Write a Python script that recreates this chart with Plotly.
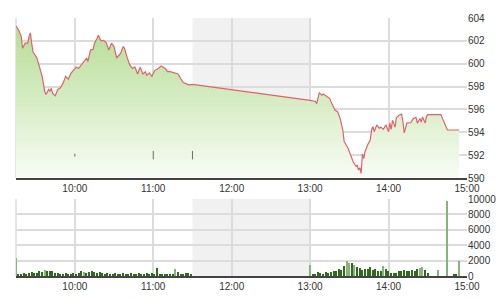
import plotly.graph_objects as go
import pandas as pd

DAY = "2024-01-02 "

# ---- price series (time, index value) ----
price_times = [
    "09:15","09:17","09:19","09:20","09:22","09:24","09:25","09:26","09:27","09:28",
    "09:31","09:33","09:35","09:37","09:38","09:40","09:41","09:42","09:43","09:45",
    "09:47","09:49","09:51","09:53","09:55","09:57","09:59","10:01","10:03","10:05",
    "10:07","10:09","10:10","10:12","10:14","10:15","10:17","10:18","10:20","10:22",
    "10:24","10:26","10:28","10:30","10:32","10:35","10:37","10:38","10:40","10:42",
    "10:44","10:46","10:48","10:50","10:52","10:54","10:55","10:57","10:59","11:01",
    "11:04","11:06","11:09","11:11","11:13","11:16","11:19","11:21","11:23","11:27",
    "11:29","11:30",
    "13:00","13:04","13:05","13:07","13:09","13:10","13:12","13:15","13:17","13:19",
    "13:21","13:23","13:25","13:26","13:29","13:31","13:33","13:35","13:36","13:37",
    "13:38","13:39","13:40","13:41","13:42","13:44","13:46","13:47","13:48","13:49",
    "13:51","13:53","13:54","13:56","13:58","14:00","14:01","14:02","14:03","14:05",
    "14:06","14:08","14:10","14:11","14:12","14:14","14:16","14:17","14:19","14:21",
    "14:22","14:24","14:25","14:26","14:28","14:29","14:30","14:40","14:45","14:54",
]
price_values = [
    603.3,602.95,602.4,601.35,601.8,601.8,602.4,602.7,601.8,601.05,
    600.5,599.7,598.9,597.55,597.3,597.75,597.6,597.85,597.4,597.2,
    597.75,597.9,598.3,598.9,598.65,599.15,599.45,599.7,599.6,599.9,
    600.3,600.5,600.2,601.2,601.25,601.8,602.2,602.5,602.0,602.05,
    601.85,601.2,601.8,601.5,600.5,600.9,601.5,601.35,600.55,599.9,
    599.6,599.7,599.1,599.7,599.1,599.3,599.0,599.2,598.9,599.4,
    599.6,599.8,599.6,599.3,599.3,599.2,599.1,598.7,598.35,598.15,
    598.15,598.2,
    596.8,596.7,596.5,597.45,597.25,597.35,597.2,596.95,596.4,595.95,
    595.8,595.2,594.2,593.2,592.6,592.0,591.4,591.05,591.1,590.7,
    590.9,590.4,592.1,591.7,592.3,592.9,593.3,594.2,594.5,594.05,
    594.65,594.35,594.45,594.25,594.65,594.05,594.8,594.25,595.05,594.45,
    595.3,595.5,595.6,594.9,593.95,594.8,594.8,594.85,595.2,595.3,
    594.8,595.2,594.9,595.35,594.8,595.4,595.55,595.55,594.2,594.2,
]

# ---- volume series ----
vol_morning = [
    2400,
    300,250,350,300,400,560,350,
    450,650,500,750,700,600,650,400,
    350,300,250,350,300,250,400,300,
    450,600,500,350,550,600,500,400,
    550,400,300,350,250,300,350,250,
    300,350,250,300,400,300,250,350,
    300,250,350,250,400,300,1100,300,
    250,200,300,250,300,870,500,300,250,350,400,300,
]
vol_afternoon = [
    1450,200,300,500,400,300,550,450,
    500,650,700,900,800,1300,1900,1700,
    1750,1450,1200,1000,800,900,950,1150,
    800,850,700,650,1300,900,600,400,
    450,350,600,700,750,700,650,800,
    700,950,1100,1230,800,400,
]
vol_close_times = ["14:38","14:45","14:50","14:52","14:54"]
vol_close = [790, 9800, 200, 200, 2000]
# 1 = lighter bar, 0 = darker bar
vol_light_morning = [1] + [0]*7 + [0,0,0,1,0,0,0,0] + [0]*8 + [0,0,1,0,0,0,0,0] + [0]*8 + [0]*8 + [0,0,0,0,0,0,0,0] + [0,0,0,0,0,1,0,0,0,0,0,0]
vol_light_afternoon = [1,0,0,0,0,0,0,0, 0,0,0,0,0,0,1,1, 0,1,0,0,0,0,0,0, 0,0,0,0,1,0,0,0, 0,0,0,0,0,0,0,0, 0,0,1,1,0,0]
vol_light_close = [1,1,0,0,1]

event_times = ["10:00", "11:00", "11:30"]
event_values = [592, 592, 592]

y_ticks_price = [590, 592, 594, 596, 598, 600, 602, 604]
y_ticks_vol = [0, 2000, 4000, 6000, 8000, 10000]

# ---- build ----
px = pd.to_datetime([DAY + t for t in price_times])
m_times = pd.date_range(DAY + "09:15", periods=len(vol_morning), freq="2min")
a_times = pd.date_range(DAY + "13:00", periods=len(vol_afternoon), freq="2min")
c_times = pd.to_datetime([DAY + t for t in vol_close_times])
v_times = list(m_times) + list(a_times) + list(c_times)
v_vals = vol_morning + vol_afternoon + vol_close
v_light = vol_light_morning + vol_light_afternoon + vol_light_close
v_colors = ["#86b57a" if f else "#2e6b1f" for f in v_light]

fig = go.Figure()
fig.add_trace(go.Scatter(
    x=px, y=price_values, mode="lines", xaxis="x", yaxis="y",
    line=dict(color="#e0636b", width=1.2),
    fill="tozeroy",
    fillgradient=dict(type="vertical", start=590, stop=604,
                      colorscale=[[0, "#f8fcf5"], [1, "#b2db90"]]),
    hoverinfo="skip", showlegend=False,
))
fig.add_trace(go.Scatter(
    x=pd.to_datetime([DAY + t for t in event_times]), y=event_values,
    mode="markers", xaxis="x", yaxis="y",
    marker=dict(symbol="line-ns", size=[2, 6, 6], line=dict(color="#333", width=1)),
    showlegend=False, hoverinfo="skip",
))
fig.add_trace(go.Bar(
    x=v_times, y=v_vals, xaxis="x2", yaxis="y2",
    marker=dict(color=v_colors, line=dict(width=0)),
    width=60000, showlegend=False, hoverinfo="skip",
))

xr = [DAY + "09:15", DAY + "15:00"]
font = dict(family="Arial, Liberation Sans", size=10, color="#333")
xcommon = dict(type="date", range=xr, tickformat="%H:%M", dtick=3600000,
               tick0=DAY + "10:00", showgrid=True, gridcolor="#dcdcdc", gridwidth=1.5,
               showline=True, linecolor="#444", linewidth=2, ticks="", tickfont=font,
               zeroline=False, fixedrange=True, automargin=False)
ycommon = dict(side="right", showgrid=True, gridcolor="#dcdcdc", gridwidth=1.5,
               ticks="", tickfont=font, zeroline=False, showline=False, fixedrange=True,
               automargin=False, tickformat="d")

dom_x = [16/500, 467/500]
fig.update_layout(
    width=500, height=300, margin=dict(l=0, r=0, t=0, b=0),
    paper_bgcolor="white", plot_bgcolor="white",
    xaxis=dict(domain=dom_x, anchor="y", **xcommon),
    yaxis=dict(domain=[1-178/300, 1-18/300], range=[590, 604], tickvals=y_ticks_price,
               anchor="x", **ycommon),
    xaxis2=dict(domain=dom_x, anchor="y2", **xcommon),
    yaxis2=dict(domain=[1-276/300, 1-199/300], range=[0, 10000], tickvals=y_ticks_vol,
                anchor="x2", **ycommon),
    bargap=0,
    shapes=[
        dict(type="rect", xref="x", yref="y domain", x0=DAY+"11:30", x1=DAY+"13:00",
             y0=0, y1=1, fillcolor="#f1f1f1", line=dict(width=0), layer="below"),
        dict(type="rect", xref="x2", yref="y2 domain", x0=DAY+"11:30", x1=DAY+"13:00",
             y0=0, y1=1, fillcolor="#f1f1f1", line=dict(width=0), layer="below"),
        dict(type="line", xref="x domain", yref="y domain", x0=0, x1=0, y0=0, y1=1,
             line=dict(color="#dcdcdc", width=1.5), layer="below"),
        dict(type="line", xref="x2 domain", yref="y2 domain", x0=0, x1=0, y0=0, y1=1,
             line=dict(color="#dcdcdc", width=1.5), layer="below"),
    ],
)
fig.write_html("out.html")
